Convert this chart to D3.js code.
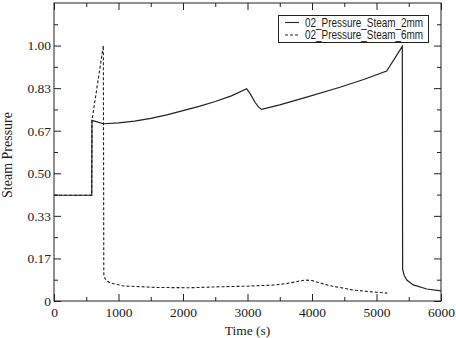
<!DOCTYPE html>
<html><head><meta charset="utf-8">
<script src="https://cdn.jsdelivr.net/npm/d3@7"></script>
<style>body{margin:0;background:#fff}svg{display:block}</style>
</head><body>
<script>
// Data
const seriesNames = ["02_Pressure_Steam_2mm", "02_Pressure_Steam_6mm"];
const time2mm  = [0, 585, 589, 765, 1000, 1250, 1500, 1750, 2000, 2250, 2500, 2750, 2987, 3050, 3116, 3170, 3220, 3500, 3917, 4434, 4800, 5158, 5400, 5405, 5430, 5470, 5570, 5780, 6000];
const press2mm = [0.414, 0.414, 0.707, 0.694, 0.697, 0.704, 0.715, 0.729, 0.745, 0.762, 0.781, 0.803, 0.831, 0.808, 0.778, 0.760, 0.750, 0.768, 0.798, 0.837, 0.867, 0.900, 0.997, 0.125, 0.100, 0.082, 0.063, 0.047, 0.040];
const time6mm  = [0, 585, 589, 765, 772, 790, 830, 868, 1075, 1592, 2109, 2625, 3000, 3400, 3600, 3891, 4000, 4279, 4640, 5000, 5168];
const press6mm = [0.414, 0.414, 0.707, 1.000, 0.105, 0.088, 0.077, 0.071, 0.059, 0.053, 0.052, 0.056, 0.058, 0.0625, 0.068, 0.082, 0.080, 0.060, 0.043, 0.034, 0.031];
const xTicks = [0, 1000, 2000, 3000, 4000, 5000, 6000];
const yTicks = [0, 1/6, 2/6, 3/6, 4/6, 5/6, 1];
const yTickLabels = ["0", "0.17", "0.33", "0.50", "0.67", "0.83", "1.00"];

const W = 456, H = 338;
const m = {l: 54, r: 15, t: 3, b: 37};
const svg = d3.select("body").append("svg").attr("width", W).attr("height", H);
const x = d3.scaleLinear().domain([0, 6000]).range([m.l, W - m.r]);
const y = d3.scaleLinear().domain([0, 7/6]).range([H - m.b, m.t]);
const ink = "#222";
const serif = "'Liberation Serif','DejaVu Serif',serif";

const xMinor = d3.range(500, 6000, 1000);
const yMinor = d3.range(1, 14, 2).map(d => d / 12);

function axisStyle(g){ g.select(".domain").remove(); g.selectAll("line").attr("stroke", ink); g.attr("font-family", serif); }

// bottom
svg.append("g").attr("transform", `translate(0,${y(0)})`)
  .call(d3.axisBottom(x).tickValues(xTicks).tickSize(-7).tickPadding(6).tickFormat(d3.format("d")))
  .call(axisStyle)
  .call(g => g.selectAll("text").attr("font-family", serif).attr("font-size", 13.5).attr("fill", ink));
svg.append("g").attr("transform", `translate(0,${y(0)})`)
  .call(d3.axisBottom(x).tickValues(xMinor).tickSize(-4).tickFormat(""))
  .call(axisStyle);
// top
svg.append("g").attr("transform", `translate(0,${y(7/6)})`)
  .call(d3.axisTop(x).tickValues(xTicks).tickSize(-7).tickFormat(""))
  .call(axisStyle);
svg.append("g").attr("transform", `translate(0,${y(7/6)})`)
  .call(d3.axisTop(x).tickValues(xMinor).tickSize(-4).tickFormat(""))
  .call(axisStyle);
// left
svg.append("g").attr("transform", `translate(${x(0)},0)`)
  .call(d3.axisLeft(y).tickValues(yTicks).tickSize(-7).tickPadding(3).tickFormat((d, i) => yTickLabels[i]))
  .call(axisStyle)
  .call(g => g.selectAll("text").attr("font-family", serif).attr("font-size", 13.5).attr("fill", ink));
svg.append("g").attr("transform", `translate(${x(0)},0)`)
  .call(d3.axisLeft(y).tickValues(yMinor).tickSize(-4).tickFormat(""))
  .call(axisStyle);
// right
svg.append("g").attr("transform", `translate(${x(6000)},0)`)
  .call(d3.axisRight(y).tickValues(yTicks).tickSize(-7).tickFormat(""))
  .call(axisStyle);
svg.append("g").attr("transform", `translate(${x(6000)},0)`)
  .call(d3.axisRight(y).tickValues(yMinor).tickSize(-4).tickFormat(""))
  .call(axisStyle);

// frame
svg.append("rect").attr("x", x(0)).attr("y", y(7/6)).attr("width", x(6000) - x(0)).attr("height", y(0) - y(7/6))
  .attr("fill", "none").attr("stroke", ink).attr("stroke-width", 1);

// lines
const line = d3.line().x(d => x(d[0])).y(d => y(d[1]));
const d2 = time2mm.map((t, i) => [t, press2mm[i]]);
const d6 = time6mm.map((t, i) => [t, press6mm[i]]);
svg.append("path").datum(d6).attr("d", line).attr("fill", "none").attr("stroke", ink).attr("stroke-width", 1.1).attr("stroke-dasharray", "3,2");
svg.append("path").datum(d2).attr("d", line).attr("fill", "none").attr("stroke", ink).attr("stroke-width", 1.2);

// axis titles
svg.append("text").attr("x", (x(0) + x(6000)) / 2).attr("y", 335).attr("text-anchor", "middle")
  .attr("font-family", serif).attr("font-size", 13.5).attr("fill", ink).text("Time (s)");
svg.append("text").attr("transform", `translate(12,${(y(0) + y(7/6)) / 2 + 3}) rotate(-90)`).attr("text-anchor", "middle")
  .attr("font-family", serif).attr("font-size", 14).attr("fill", ink).text("Steam Pressure");

// legend
const lg = svg.append("g");
lg.append("rect").attr("x", 278.5).attr("y", 15.5).attr("width", 150).attr("height", 27)
  .attr("fill", "#fff").attr("stroke", ink).attr("stroke-width", 1);
seriesNames.forEach((name, i) => {
  const yy = 22.5 + i * 12.5;
  lg.append("line").attr("x1", 285).attr("x2", 299).attr("y1", yy).attr("y2", yy)
    .attr("stroke", ink).attr("stroke-width", 1.1).attr("stroke-dasharray", i ? "3,2" : null);
  lg.append("text").attr("x", 305).attr("y", yy + 4).attr("font-family", "'Liberation Sans','Arial',sans-serif")
    .attr("font-size", 12).attr("textLength", 118).attr("lengthAdjust", "spacingAndGlyphs")
    .attr("fill", ink).text(name);
});
</script>
</body></html>
